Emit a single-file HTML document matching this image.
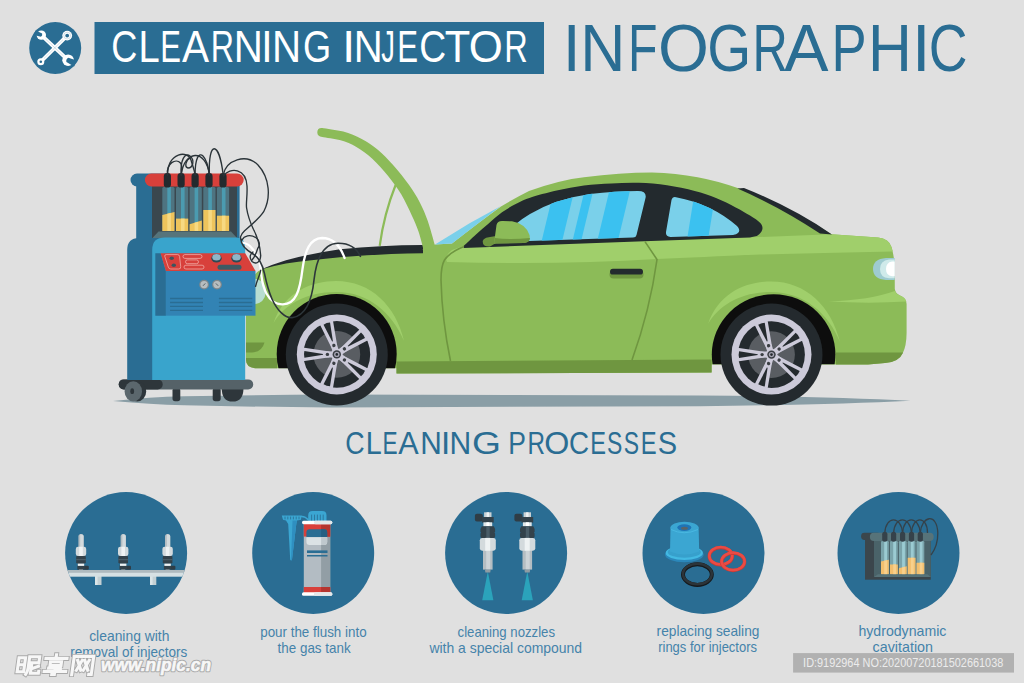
<!DOCTYPE html>
<html>
<head>
<meta charset="utf-8">
<title>Clearning Injector Infographic</title>
<style>
html,body{margin:0;padding:0;background:#e0e0e0;}
body{width:1024px;height:683px;overflow:hidden;font-family:"Liberation Sans",sans-serif;}
svg{display:block;position:absolute;left:0;top:0;}
text{font-family:"Liberation Sans",sans-serif;}
</style>
</head>
<body>
<svg width="1024" height="683" viewBox="0 0 1024 683">
<rect width="1024" height="683" fill="#e0e0e0"/>

<!-- ===== HEADER ===== -->
<g id="header">
  <circle cx="55.2" cy="48" r="26" fill="#2a6d93"/>
  <g id="hicon">
    <line x1="40.8" y1="61.7" x2="67.2" y2="35.6" stroke="#ffffff" stroke-width="3.7"/>
    <circle cx="67.2" cy="35.6" r="4.9" fill="#ffffff"/>
    <circle cx="67.2" cy="35.6" r="3.4" fill="none" stroke="#2a6d93" stroke-width="0.4" opacity="0.5"/>
    <circle cx="67.2" cy="35.6" r="1.9" fill="#2a6d93"/>
    <circle cx="40.8" cy="61.7" r="3.5" fill="#ffffff"/>
    <circle cx="40.8" cy="61.7" r="1.3" fill="#2a6d93"/>
    <line x1="41.3" y1="35.1" x2="68.1" y2="60.2" stroke="#ffffff" stroke-width="3.7"/>
    <circle cx="41.3" cy="35.1" r="4.7" fill="#ffffff"/>
    <g transform="translate(41.3,35.1) rotate(200)"><path d="M-0.2,-1.8 L7,-2.5 L7,2.5 L-0.2,1.8 Q-1.6,0 -0.2,-1.8 Z" fill="#2a6d93"/></g>
    <circle cx="68.1" cy="60.2" r="5.8" fill="#ffffff"/>
    <g transform="translate(68.1,60.2) rotate(24)"><path d="M-0.8,-2.4 L8,-3.2 L8,3.2 L-0.8,2.4 Q-2.6,0 -0.8,-2.4 Z" fill="#2a6d93"/></g>
    <line x1="45.5" y1="39" x2="63.5" y2="55.9" stroke="#2a6d93" stroke-width="0.45" opacity="0.45"/>
    <line x1="44" y1="58.5" x2="63" y2="39.7" stroke="#2a6d93" stroke-width="0.45" opacity="0.45"/>
</g>

  <rect x="94.5" y="22" width="449.5" height="52" fill="#2a6d93"/>
  <text transform="translate(111.16,61.7) scale(0.8294,1)" font-size="43.6" fill="#ffffff">C</text>
<text transform="translate(138.47,61.7) scale(0.8739,1)" font-size="43.6" fill="#ffffff">L</text>
<text transform="translate(160.36,61.7) scale(0.7109,1)" font-size="43.6" fill="#ffffff">E</text>
<text transform="translate(181.92,61.7) scale(0.9305,1)" font-size="43.6" fill="#ffffff">A</text>
<text transform="translate(210.76,61.7) scale(0.7378,1)" font-size="43.6" fill="#ffffff">R</text>
<text transform="translate(233.70,61.7) scale(0.9238,1)" font-size="43.6" fill="#ffffff">N</text>
<text transform="translate(261.34,61.7) scale(0.9345,1)" font-size="43.6" fill="#ffffff">I</text>
<text transform="translate(271.90,61.7) scale(0.9238,1)" font-size="43.6" fill="#ffffff">N</text>
<text transform="translate(303.08,61.7) scale(0.8291,1)" font-size="43.6" fill="#ffffff">G</text>
<text transform="translate(342.25,61.7) scale(1.0575,1)" font-size="43.6" fill="#ffffff">I</text>
<text transform="translate(353.81,61.7) scale(0.9197,1)" font-size="43.6" fill="#ffffff">N</text>
<text transform="translate(381.37,61.7) scale(0.6263,1)" font-size="43.6" fill="#ffffff">J</text>
<text transform="translate(397.14,61.7) scale(0.7152,1)" font-size="43.6" fill="#ffffff">E</text>
<text transform="translate(419.21,61.7) scale(0.8547,1)" font-size="43.6" fill="#ffffff">C</text>
<text transform="translate(444.86,61.7) scale(0.9573,1)" font-size="43.6" fill="#ffffff">T</text>
<text transform="translate(468.83,61.7) scale(1.0046,1)" font-size="43.6" fill="#ffffff">O</text>
<text transform="translate(504.23,61.7) scale(0.7455,1)" font-size="43.6" fill="#ffffff">R</text>

  <text transform="translate(562.66,71.3) scale(0.9545,1)" font-size="67.4" fill="#2a6d93">I</text>
<text transform="translate(580.17,71.3) scale(0.9270,1)" font-size="67.4" fill="#2a6d93">N</text>
<text transform="translate(628.04,71.3) scale(0.7164,1)" font-size="67.4" fill="#2a6d93">F</text>
<text transform="translate(657.90,71.3) scale(0.9716,1)" font-size="67.4" fill="#2a6d93">O</text>
<text transform="translate(707.16,71.3) scale(0.8386,1)" font-size="67.4" fill="#2a6d93">G</text>
<text transform="translate(752.39,71.3) scale(0.7247,1)" font-size="67.4" fill="#2a6d93">R</text>
<text transform="translate(784.27,71.3) scale(0.9845,1)" font-size="67.4" fill="#2a6d93">A</text>
<text transform="translate(831.58,71.3) scale(0.7806,1)" font-size="67.4" fill="#2a6d93">P</text>
<text transform="translate(867.92,71.3) scale(0.9004,1)" font-size="67.4" fill="#2a6d93">H</text>
<text transform="translate(912.06,71.3) scale(0.9863,1)" font-size="67.4" fill="#2a6d93">I</text>
<text transform="translate(928.77,71.3) scale(0.7965,1)" font-size="67.4" fill="#2a6d93">C</text>

</g>

<!-- ===== SCENE ===== -->
<g id="scene">
<!-- ground shadow -->
<path d="M113,401 Q150,397 184,396.2 Q260,394.8 330,394.6 L700,395.5 Q830,396.5 910.5,400.7 Q830,404.8 700,406.2 L330,407.5 Q260,407 184,405.2 Q150,404.5 113,401 Z" fill="#8a9ea6"/>

<!-- ===== CAR ===== -->
<g id="car">
  <!-- windshield sliver -->
  
  <!-- body -->
  <path d="M255,368.3 Q246,367 246,360 L246,300 Q247,278 261,269.3 Q272,265.3 286,262 Q310,256.5 340,253.2 Q380,249.5 422,249 L435,244.5 L452,243.5 Q478,223 501,206.5 Q515,198 529,191 Q560,180 584,177.3 Q620,172.4 652,172.4 Q700,174 738.4,188.3 Q790,207 831.4,234.2 L878,237.4 Q889,238.5 891.5,247 Q894,256 894.7,265 L894.8,289 Q895.5,293.5 900,295.5 Q906.6,298 906.6,304 L906.6,333 Q906.5,346 902.6,353.6 Q899,362 885,363 L868,364.4 L711.6,364.4 L711.6,372.5 L396.5,373.6 L396.5,368.3 Z" fill="#8cbb58"/>
  <path d="M435,244.5 L470,223 L501,206 L478,223.5 L452,243.5 Z" fill="#7ad0ea"/>
  <!-- engine bay black strip -->
  <path d="M261,269.6 Q272,264.5 286,260.3 Q310,253.5 340,249.2 Q380,245.3 423,245 L423,253.2 Q385,253.6 340,257.3 Q310,260 286,263.6 Q272,266.2 261,269.6 Z" fill="#232a2e"/>
  <!-- belt highlight -->
  <path d="M447,262 Q444,256 452,250 L463,246 L700,239 L760,237 L831,234.2 L878,237.4 Q889,238.5 891.5,247 L892.8,251.5 Q820,253 760,254.5 Q700,257 657,259 Q560,265 447,262 Z" fill="#a0cf6b"/>
  <!-- bumper highlight -->
  <path d="M828.7,301.5 Q870,300 894.8,291 Q896,294 900,295.5 Q905.5,297.5 906.4,301.5 Q870,303.8 828.7,301.5 Z" fill="#a0cf6b"/>
  <!-- lower dark strips -->
  <path d="M396.5,361.5 L711.6,359.5 L711.6,372.5 L396.5,373.6 Z" fill="#6f9640"/>
  <path d="M836,352.6 L903.1,352.4 Q899,362 885,363 L868,364.4 L836,364.6 Z" fill="#6f9640"/>
  <path d="M246,358 L277,358 L277,368.3 L255,368.3 Q246,367 246,360 Z" fill="#6f9640"/>
  <!-- front vent -->
  <path d="M246,342.5 L264.5,342.5 Q262,352 252,352.5 L246,352.5 Z" fill="#6f9640"/>
  <!-- headlight -->
  <path d="M254,278.5 Q266.5,281 265.8,292 Q265,303 254,304.5 Z" fill="#bfe3e6" opacity="0.85"/>
  <!-- fender flares -->
  <path d="M273.5,323 C284,292 312,281 336,281 C371,281 396,306 404,341 C392,313 369,292 336,292 C306,292 284,305 273.5,323 Z" fill="#a0cf6b"/>
  <path d="M708,324 C719,292 747,281.5 771,281.5 C806,281.5 831,306 840,342 C828,313 804,292 771,292 C741,292 719,305 708,324 Z" fill="#a0cf6b"/>
  <!-- arches -->
  <clipPath id="cf"><rect x="260" y="280" width="160" height="88.3"/></clipPath>
  <clipPath id="cr"><rect x="700" y="280" width="160" height="84.3"/></clipPath>
  <circle cx="336.7" cy="354" r="60" fill="#0d0d0d" clip-path="url(#cf)"/>
  <ellipse cx="773.6" cy="354.6" rx="61.8" ry="60.4" fill="#0d0d0d" clip-path="url(#cr)"/>
  <!-- window frame black -->
  <path d="M463.7,246 C465.8,244.1 471.9,238.2 476.0,234.5 C480.1,230.8 484.1,227.5 488.4,223.8 C492.7,220.1 497.4,215.6 502.0,212.3 C506.6,209.0 511.1,206.5 515.7,204.1 C520.3,201.7 522.6,200.2 529.4,197.9 C536.2,195.6 547.6,192.6 556.7,190.5 C565.8,188.4 574.9,186.7 584.0,185.5 C593.1,184.3 602.3,183.8 611.4,183.4 C620.5,183.0 629.5,182.5 638.8,182.8 C648.1,183.1 657.7,183.9 667.0,185.3 C676.3,186.7 686.5,188.9 694.7,191.0 C702.9,193.1 709.2,195.3 716.0,198.0 C722.8,200.7 730.0,204.5 735.7,207.4 C741.4,210.3 745.9,212.9 750.0,215.5 C754.1,218.1 758.2,220.7 760.3,223.0 C762.3,225.3 762.8,227.4 762.3,229.5 C761.8,231.6 759.8,234.2 757.6,235.5 C755.5,236.8 750.8,237.2 749.4,237.5 L644,241.3 L463.7,248 Z" fill="#232a2e"/>
  <!-- rear windshield sliver -->
  <path d="M737.5,188.6 L744,188 Q792,207 832,234.4 L820,233.6 Q780,207 737.5,188.6 Z" fill="#232a2e"/>
  <!-- front glass -->
  <clipPath id="g1"><path d="M505,238 Q510,226 530,214 Q555,199 590,194 Q615,191 638,191 Q647,191 645.5,198 L636.5,235 Q636,237.5 633,237.6 L529,241 L505,241 Z"/></clipPath>
  <g clip-path="url(#g1)">
    <rect x="500" y="185" width="150" height="60" fill="#7ad0ea"/>
    <path d="M540.7,245 L555.1,185 L575.6,185 L561.2,245 Z" fill="#3bc1f0"/>
    <path d="M571.5,245 L585.9,185 L594.6,185 L580.2,245 Z" fill="#3bc1f0"/>
    <path d="M596.3,245 L610.7,185 L631.3,185 L616.9,245 Z" fill="#3bc1f0"/>
  </g>
  <!-- rear glass -->
  <clipPath id="g2"><path d="M666,232 L671.5,200 Q672.5,196.5 676,197.2 Q712,204 737,226 Q741,230 738,233 Q736.5,234.8 733,234.9 L670.5,237 Q665.5,237 666,232 Z"/></clipPath>
  <g clip-path="url(#g2)">
    <rect x="660" y="190" width="90" height="50" fill="#7ad0ea"/>
    <path d="M687,240 L695,190 L716,190 L708,240 Z" fill="#3bc1f0"/>
  </g>
  <!-- mirror -->
  <path d="M483,243.5 Q481,238 490,237 L496,236 L496,243 L490,246.5 Q484,247 483,243.5 Z" fill="#6f9640"/>
  <path d="M494,243.5 L496.5,225 Q497.5,220.5 503,221 L512,221.3 Q526,224 529.5,235 Q531,242 524,243 Z" fill="#8cbb58"/>
  <path d="M494,243.5 L494.8,238 Q510,240 530,238 Q530,242.5 524,243 Z" fill="#6f9640"/>
  <!-- door lines -->
  <path d="M464,246.5 Q450,252 444.5,260 Q441,266 441,280 Q442,320 450.5,361" fill="none" stroke="#6f9640" stroke-width="1.6"/>
  <path d="M645,241.6 L657,259.5 Q650,310 632,360" fill="none" stroke="#6f9640" stroke-width="1.6"/>
  <!-- door handle -->
  <rect x="609.5" y="270.5" width="34" height="8" rx="4" fill="#6f9640"/>
  <rect x="610" y="268.8" width="33" height="5.8" rx="2.9" fill="#232a2e"/>
  <!-- tail light -->
  <path d="M894.7,258 L886,258 Q873,259 873,269 Q873,279 886,280 L894.7,280 Z" fill="#9ecbd0"/>
  <path d="M894.7,259.5 L889,259.5 Q880,260.5 880,269 Q880,277.5 889,278.3 L894.7,278.3 Z" fill="#cfeaea"/>
  <path d="M894.7,261.5 L892,261.5 Q886,262.5 886,269 Q886,275.5 892,276.3 L894.7,276.3 Z" fill="#ffffff"/>
  <!-- hood -->
  <path d="M322.2,127.9 C325.7,128.5 336.7,129.8 343.3,131.6 C349.9,133.4 356.0,136.0 361.7,139.0 C367.4,142.0 372.2,145.1 377.5,149.5 C382.8,153.9 388.0,159.4 393.3,165.3 C398.6,171.2 404.7,178.9 409.1,185.1 C413.5,191.2 416.6,196.3 419.7,202.2 C422.8,208.1 425.2,213.8 427.6,220.6 C430.0,227.4 432.9,238.3 434.2,243.0 C435.5,247.7 435.3,248.0 435.5,249.0 L422.5,250 C422.6,249.5 423.5,250.1 422.8,247.0 C422.1,243.9 420.2,236.5 418.4,231.2 C416.6,225.9 414.7,221.6 411.8,215.4 C408.9,209.2 405.1,200.9 401.2,194.3 C397.2,187.7 392.9,181.8 388.1,175.9 C383.3,170.0 377.6,163.5 372.3,158.7 C367.0,153.9 361.7,150.0 356.4,146.9 C351.1,143.8 346.3,142.0 340.6,140.3 C334.9,138.6 325.3,137.5 322.2,136.9 Q317.3,136.6 317.3,132.3 Q317.3,127.6 322.2,127.9 Z" fill="#8cbb58"/>
  <!-- hood prop -->
  <path d="M395.6,185 Q384,214 379.7,245.8" fill="none" stroke="#8cbb58" stroke-width="2.2"/>
</g>
<!-- wheels -->
<g transform="translate(336.8,354.4)">
<circle r="51" fill="#242a2e"/>
<circle r="40" fill="#cccad9"/>
<circle r="33.4" fill="#242a2e"/>
<circle r="23.4" fill="#595d62"/>
<g transform="rotate(180)">
<path d="M2,-3 L9,-3.2 L34,-6.9 L34,6.9 L9,3.2 L2,3 Z" fill="#cccad9"/>
<path d="M13.8,-0.4 L32.4,-3.4 Q33.3,0 32.4,3.4 L13.8,0.4 Z" fill="#242a2e"/>
<circle cx="9.4" cy="0" r="3.1" fill="#cccad9"/>
<circle cx="9.4" cy="0" r="1.7" fill="#3a3e43"/>
</g>
<g transform="rotate(252)">
<path d="M2,-3 L9,-3.2 L34,-6.9 L34,6.9 L9,3.2 L2,3 Z" fill="#cccad9"/>
<path d="M13.8,-0.4 L32.4,-3.4 Q33.3,0 32.4,3.4 L13.8,0.4 Z" fill="#242a2e"/>
<circle cx="9.4" cy="0" r="3.1" fill="#cccad9"/>
<circle cx="9.4" cy="0" r="1.7" fill="#3a3e43"/>
</g>
<g transform="rotate(324)">
<path d="M2,-3 L9,-3.2 L34,-6.9 L34,6.9 L9,3.2 L2,3 Z" fill="#cccad9"/>
<path d="M13.8,-0.4 L32.4,-3.4 Q33.3,0 32.4,3.4 L13.8,0.4 Z" fill="#242a2e"/>
<circle cx="9.4" cy="0" r="3.1" fill="#cccad9"/>
<circle cx="9.4" cy="0" r="1.7" fill="#3a3e43"/>
</g>
<g transform="rotate(396)">
<path d="M2,-3 L9,-3.2 L34,-6.9 L34,6.9 L9,3.2 L2,3 Z" fill="#cccad9"/>
<path d="M13.8,-0.4 L32.4,-3.4 Q33.3,0 32.4,3.4 L13.8,0.4 Z" fill="#242a2e"/>
<circle cx="9.4" cy="0" r="3.1" fill="#cccad9"/>
<circle cx="9.4" cy="0" r="1.7" fill="#3a3e43"/>
</g>
<g transform="rotate(468)">
<path d="M2,-3 L9,-3.2 L34,-6.9 L34,6.9 L9,3.2 L2,3 Z" fill="#cccad9"/>
<path d="M13.8,-0.4 L32.4,-3.4 Q33.3,0 32.4,3.4 L13.8,0.4 Z" fill="#242a2e"/>
<circle cx="9.4" cy="0" r="3.1" fill="#cccad9"/>
<circle cx="9.4" cy="0" r="1.7" fill="#3a3e43"/>
</g>
<circle r="5.8" fill="#cccad9"/>
<circle r="4.2" fill="#3a3e43"/>
<circle r="2.7" fill="#a5a3b2"/>
<circle r="1.3" fill="#242a2e"/>
</g>
<g transform="translate(771.5,354.6)">
<circle r="51" fill="#242a2e"/>
<circle r="40" fill="#cccad9"/>
<circle r="33.4" fill="#242a2e"/>
<circle r="23.4" fill="#595d62"/>
<g transform="rotate(180)">
<path d="M2,-3 L9,-3.2 L34,-6.9 L34,6.9 L9,3.2 L2,3 Z" fill="#cccad9"/>
<path d="M13.8,-0.4 L32.4,-3.4 Q33.3,0 32.4,3.4 L13.8,0.4 Z" fill="#242a2e"/>
<circle cx="9.4" cy="0" r="3.1" fill="#cccad9"/>
<circle cx="9.4" cy="0" r="1.7" fill="#3a3e43"/>
</g>
<g transform="rotate(252)">
<path d="M2,-3 L9,-3.2 L34,-6.9 L34,6.9 L9,3.2 L2,3 Z" fill="#cccad9"/>
<path d="M13.8,-0.4 L32.4,-3.4 Q33.3,0 32.4,3.4 L13.8,0.4 Z" fill="#242a2e"/>
<circle cx="9.4" cy="0" r="3.1" fill="#cccad9"/>
<circle cx="9.4" cy="0" r="1.7" fill="#3a3e43"/>
</g>
<g transform="rotate(324)">
<path d="M2,-3 L9,-3.2 L34,-6.9 L34,6.9 L9,3.2 L2,3 Z" fill="#cccad9"/>
<path d="M13.8,-0.4 L32.4,-3.4 Q33.3,0 32.4,3.4 L13.8,0.4 Z" fill="#242a2e"/>
<circle cx="9.4" cy="0" r="3.1" fill="#cccad9"/>
<circle cx="9.4" cy="0" r="1.7" fill="#3a3e43"/>
</g>
<g transform="rotate(396)">
<path d="M2,-3 L9,-3.2 L34,-6.9 L34,6.9 L9,3.2 L2,3 Z" fill="#cccad9"/>
<path d="M13.8,-0.4 L32.4,-3.4 Q33.3,0 32.4,3.4 L13.8,0.4 Z" fill="#242a2e"/>
<circle cx="9.4" cy="0" r="3.1" fill="#cccad9"/>
<circle cx="9.4" cy="0" r="1.7" fill="#3a3e43"/>
</g>
<g transform="rotate(468)">
<path d="M2,-3 L9,-3.2 L34,-6.9 L34,6.9 L9,3.2 L2,3 Z" fill="#cccad9"/>
<path d="M13.8,-0.4 L32.4,-3.4 Q33.3,0 32.4,3.4 L13.8,0.4 Z" fill="#242a2e"/>
<circle cx="9.4" cy="0" r="3.1" fill="#cccad9"/>
<circle cx="9.4" cy="0" r="1.7" fill="#3a3e43"/>
</g>
<circle r="5.8" fill="#cccad9"/>
<circle r="4.2" fill="#3a3e43"/>
<circle r="2.7" fill="#a5a3b2"/>
<circle r="1.3" fill="#242a2e"/>
</g>
<!-- ===== MACHINE ===== -->
<g id="machine">
  <!-- wheels/legs -->
  <rect x="172.5" y="388" width="7.8" height="13.2" rx="2.6" fill="#2e363b"/>
  <rect x="212.7" y="388" width="8" height="13.2" rx="2.6" fill="#2e363b"/>
  <path d="M221.7,388 L243.5,388 Q243.5,401.6 232.6,401.6 Q221.7,401.6 221.7,388 Z" fill="#2e363b"/>
  <!-- base bar -->
  <rect x="118.7" y="379.4" width="134.5" height="10" rx="5" fill="#556268"/>
  <rect x="118.7" y="379.4" width="44" height="10" rx="5" fill="#2e363b"/>
  <ellipse cx="137.2" cy="391.4" rx="9" ry="10.2" fill="#2e363b"/>
  <ellipse cx="133.3" cy="391.4" rx="8.7" ry="10.2" fill="#5b676d"/>
  <ellipse cx="132.2" cy="391.2" rx="1.9" ry="2.9" fill="#2e363b"/>
  <!-- back top cap -->
  <rect x="130.5" y="173.5" width="40" height="13" rx="6.5" fill="#2a6d93"/>
  <rect x="136.2" y="180" width="16" height="70" fill="#2a6d93"/>
  <rect x="236" y="184" width="3.6" height="60" fill="#2a6d93"/>
  <!-- window -->
  <rect x="152" y="184" width="85" height="56" fill="#3a474e"/>
  <!-- tubes -->
  <g id="tubes">
    <rect x="162.3" y="187" width="12.2" height="44" rx="1.5" fill="#4e7481"/>
    <rect x="176.0" y="187" width="12.2" height="44" rx="1.5" fill="#4e7481"/>
    <rect x="189.6" y="187" width="12.2" height="44" rx="1.5" fill="#4e7481"/>
    <rect x="203.3" y="187" width="12.2" height="44" rx="1.5" fill="#4e7481"/>
    <rect x="216.9" y="187" width="12.2" height="44" rx="1.5" fill="#4e7481"/>
    <rect x="167.3" y="187" width="3.6" height="44" fill="#4b9bb0"/>
    <rect x="181.0" y="187" width="3.6" height="44" fill="#4b9bb0"/>
    <rect x="194.6" y="187" width="3.6" height="44" fill="#4b9bb0"/>
    <rect x="208.3" y="187" width="3.6" height="44" fill="#4b9bb0"/>
    <rect x="221.9" y="187" width="3.6" height="44" fill="#4b9bb0"/>
    <path d="M162.3,215 L174.5,212 L174.5,231 L162.3,231 Z" fill="#eec45c"/>
    <path d="M176,218.6 L188.2,218.6 L188.2,231 L176,231 Z" fill="#eec45c"/>
    <path d="M189.6,224.3 L201.8,220.6 L201.8,231 L189.6,231 Z" fill="#eec45c"/>
    <path d="M203.3,210 L215.5,210 L215.5,231 L203.3,231 Z" fill="#eec45c"/>
    <path d="M216.9,215.7 L229.1,215.7 L229.1,231 L216.9,231 Z" fill="#eec45c"/>
    <path d="M167.3,213.8 L170.9,212.9 L170.9,231 L167.3,231 Z" fill="#f6d982"/>
    <path d="M181,218.6 L184.6,218.6 L184.6,231 L181,231 Z" fill="#f6d982"/>
    <path d="M194.6,222.8 L198.2,221.7 L198.2,231 L194.6,231 Z" fill="#f6d982"/>
    <path d="M208.3,210 L211.9,210 L211.9,231 L208.3,231 Z" fill="#f6d982"/>
    <path d="M221.9,215.7 L225.5,215.7 L225.5,231 L221.9,231 Z" fill="#f6d982"/>
  </g>
  <!-- tray -->
  <path d="M152,238.5 L158.5,231.5 L231,231.5 L237.5,238.5 Z" fill="#56747b"/>
  <!-- red top bar -->
  <rect x="144.9" y="173.5" width="98.8" height="13" rx="6.5" fill="#d8403b"/>
  <!-- connectors -->
  <g fill="#232a2e">
    <rect x="163.8" y="173" width="7.2" height="14.6" rx="3.4"/>
    <rect x="177.5" y="173" width="7.2" height="14.6" rx="3.4"/>
    <rect x="191.5" y="173" width="7.2" height="14.6" rx="3.4"/>
    <rect x="205.4" y="173" width="7.2" height="14.6" rx="3.4"/>
    <rect x="219.4" y="173" width="7.2" height="14.6" rx="3.4"/>
  </g>
  <!-- dark body left -->
  <path d="M127.2,380 L127.2,250 Q127.2,238 139,238 L160,238 L160,380 Z" fill="#2a6d93"/>
  <!-- light body -->
  <path d="M152.2,380 L152.2,250 Q152.2,237.6 165,237.6 L236,237.6 Q245.2,237.6 245.2,248 L245.2,380 Z" fill="#39a4cc"/>
  <!-- box: left side -->
  <path d="M155.3,253.2 L160.6,253.2 L165.9,270.9 L165.9,315.7 L155.3,315.7 Z" fill="#2a6d93"/>
  <!-- box: front -->
  <rect x="165.9" y="270.9" width="89.6" height="44.8" fill="#3283b4"/>
  <!-- red panel -->
  <path d="M160.6,253.2 L245.2,253.2 L255.5,270.9 L165.9,270.9 Z" fill="#d8403b"/>
  <!-- panel details -->
  <g fill="none" stroke="#f3b9b3" stroke-width="0.7">
    <path d="M166.2,254.6 L177.5,254.6 Q179.4,254.6 179.6,256.5 L180.7,266.7 Q181,269 178.6,269 L170.8,269 Q168.8,269 168.3,267 L164.8,256.4 Q164.4,254.6 166.2,254.6 Z"/>
    <rect x="183" y="254.6" width="19" height="3.8" rx="1.9"/>
    <rect x="185.5" y="259.9" width="13" height="3.8" rx="1.9"/>
    <rect x="184" y="265.2" width="20" height="3.8" rx="1.9"/>
  </g>
  <ellipse cx="171.7" cy="258.2" rx="2.2" ry="1.7" fill="#3b5560"/>
  <ellipse cx="173.8" cy="265.3" rx="2.2" ry="1.7" fill="#3b5560"/>
  <ellipse cx="216.5" cy="258.3" rx="5.2" ry="4.3" fill="#2f4954"/>
  <ellipse cx="216.5" cy="257.3" rx="4.2" ry="3.3" fill="#8fb5c7"/>
  <ellipse cx="236.5" cy="258.3" rx="5.2" ry="4.3" fill="#2f4954"/>
  <ellipse cx="236.5" cy="257.3" rx="4.2" ry="3.3" fill="#8fb5c7"/>
  <rect x="217.5" y="264.8" width="24" height="5" rx="2.5" fill="#3f5a64"/>
  <!-- gauges -->
  <circle cx="204.1" cy="284.6" r="4.9" fill="#7f878b"/>
  <circle cx="204.1" cy="284.6" r="3.7" fill="#b6bcbf"/>
  <path d="M203,285.8 L205.3,283.4" stroke="#4a555b" stroke-width="0.9"/>
  <circle cx="217" cy="284.6" r="4.9" fill="#7f878b"/>
  <circle cx="217" cy="284.6" r="3.7" fill="#b6bcbf"/>
  <path d="M218.2,285.8 L215.9,283.4" stroke="#4a555b" stroke-width="0.9"/>
  <!-- vents -->
  <g stroke="#2a6d93" stroke-width="1.3">
    <path d="M170.1,298.5 H203 M170.1,302.5 H203 M170.1,306.4 H203 M170.1,310.4 H203"/>
    <path d="M218.9,298.5 H252.3 M218.9,302.5 H252.3 M218.9,306.4 H252.3 M218.9,310.4 H252.3"/>
  </g>
</g>
<!-- ===== WIRES ===== -->
<g id="wires" fill="none" stroke-linecap="round">
  <!-- white hose -->
  <path d="M242.4,242.5 C247,243.5 250,245.5 252,248.3 C255.5,252.5 258,257 259.3,261.5 C260.5,266 261,271 261.5,276.1 C262.5,284 264,289 266.6,293.7 C270,300 275,304 282,304.3 C296,305 300,290 302.5,269 C305,250 310,238.5 322,238 C335,238 341,248 344.6,258" stroke="#ffffff" stroke-width="2.3"/>
  <!-- dark hose -->
  <path d="M241,239.5 C241,246 247,250.5 253.4,254.2 C258,257 262,263 264.4,273.2 C266,281 268,290 272,299 C277,310 285,319 293,317.5 C306,315 312,300 314,280 C316,262 322,243.5 338,243.2 C350,243 357,249 360.4,256.3" stroke="#2d363b" stroke-width="1.6"/>
  <g stroke="#2a3338" stroke-width="1.35">
    <!-- loops above connectors -->
    <path d="M167.5,175 C166,163 176,158 180.5,163 C183,166 181.5,171 181.2,175"/>
    <path d="M167.5,175 C168,152 188,150 191,160 C193,167 194.5,170 195.1,175"/>
    <path d="M181.2,175 C180,160 185,152 190,156 C195,160 193,168 188,168 C184,167 186,160 190,158"/>
    <path d="M195.1,175 C195,158 199,152 203,156 C207,160 208.5,168 209.4,175"/>
    <path d="M181.2,175 C184,150 206,148 209.4,175"/>
    <path d="M209.4,175 C208,140 219,140 223.2,175"/>
    <!-- right loops -->
    <path d="M223.2,175 C226,160 246,153 258,165 C270,178 271,198 263.7,211.7 C259,219 250,226 244.6,230.7 C240,235 239.5,239 242,240 C244,236 250,233.5 256.4,238 C260,241 260,246 257.8,248.3 C256,254 254,258 252,260"/>
    <path d="M223.5,176 C230,167 246,168 247,186 C247.5,197 245.8,203 246.6,208 C247.6,214.6 250,222 253.4,229.3 C257,236 260,243.9 260.7,255.6 C260.3,262 256.4,265 252,261.5 C249,258 250,254 253,252"/>
    <path d="M255.6,286.4 C257,280 260,275 260.7,270.3"/>
  </g>
</g>

</g>

<!-- ===== PROCESSES ===== -->
<text transform="translate(345.34,454.3) scale(0.8522,1)" font-size="31.5" fill="#2a6d93">C</text>
<text transform="translate(365.74,454.3) scale(0.9144,1)" font-size="31.5" fill="#2a6d93">L</text>
<text transform="translate(382.44,454.3) scale(0.7204,1)" font-size="31.5" fill="#2a6d93">E</text>
<text transform="translate(398.34,454.3) scale(0.9719,1)" font-size="31.5" fill="#2a6d93">A</text>
<text transform="translate(420.15,454.3) scale(0.9491,1)" font-size="31.5" fill="#2a6d93">N</text>
<text transform="translate(441.03,454.3) scale(1.0552,1)" font-size="31.5" fill="#2a6d93">I</text>
<text transform="translate(449.53,454.3) scale(0.9548,1)" font-size="31.5" fill="#2a6d93">N</text>
<text transform="translate(472.03,454.3) scale(1.1817,1)" font-size="31.5" fill="#2a6d93">G</text>
<text transform="translate(508.33,454.3) scale(0.8410,1)" font-size="31.5" fill="#2a6d93">P</text>
<text transform="translate(527.51,454.3) scale(0.7699,1)" font-size="31.5" fill="#2a6d93">R</text>
<text transform="translate(544.17,454.3) scale(1.0231,1)" font-size="31.5" fill="#2a6d93">O</text>
<text transform="translate(568.89,454.3) scale(0.8823,1)" font-size="31.5" fill="#2a6d93">C</text>
<text transform="translate(590.36,454.3) scale(0.7497,1)" font-size="31.5" fill="#2a6d93">E</text>
<text transform="translate(607.06,454.3) scale(0.7279,1)" font-size="31.5" fill="#2a6d93">S</text>
<text transform="translate(623.76,454.3) scale(0.7279,1)" font-size="31.5" fill="#2a6d93">S</text>
<text transform="translate(640.75,454.3) scale(0.7556,1)" font-size="31.5" fill="#2a6d93">E</text>
<text transform="translate(657.78,454.3) scale(0.9209,1)" font-size="31.5" fill="#2a6d93">S</text>


<g id="circles">
  <circle cx="126.1" cy="553" r="61" fill="#2a6d93"/>
  <circle cx="313.2" cy="553" r="61" fill="#2a6d93"/>
  <circle cx="506.1" cy="553" r="61" fill="#2a6d93"/>
  <circle cx="703.5" cy="553" r="61" fill="#2a6d93"/>
  <circle cx="898.5" cy="553" r="61" fill="#2a6d93"/>
</g>

<g id="icon1">
<clipPath id="c1"><circle cx="126.1" cy="553" r="61"/></clipPath>
<g transform="translate(81,0)">
  <rect x="3" y="565.8" width="4.8" height="3.9" rx="1" fill="#2f3d46"/>
  <rect x="-2" y="568" width="4" height="2.4" fill="#c9d1d4"/>
  <rect x="-3.7" y="565.4" width="7.4" height="4.2" fill="#33424b"/>
  <rect x="-3.2" y="563.2" width="6.4" height="2.7" fill="#eef2f3"/>
  <rect x="-4.8" y="555.6" width="9.6" height="8" rx="1.4" fill="#33424b"/>
  <rect x="-4.8" y="559.2" width="9.6" height="1" fill="#4f626c"/>
  <path d="M-2.6,548 L-2.6,536.6 Q-2.6,534 0,534 Q2.6,534 2.6,536.6 L2.6,548 Z" fill="#b4bdc2"/>
  <path d="M-0.8,548 L-0.8,534.2 Q2.6,534 2.6,536.6 L2.6,548 Z" fill="#d3dadd"/>
  <rect x="-5.2" y="546.8" width="10.4" height="9.2" rx="2.2" fill="#d3dadd"/>
  <rect x="-1.8" y="546.8" width="3.6" height="9.2" fill="#eef2f3"/>
</g>
<g transform="translate(123.2,0)">
  <rect x="3" y="565.8" width="4.8" height="3.9" rx="1" fill="#2f3d46"/>
  <rect x="-2" y="568" width="4" height="2.4" fill="#c9d1d4"/>
  <rect x="-3.7" y="565.4" width="7.4" height="4.2" fill="#33424b"/>
  <rect x="-3.2" y="563.2" width="6.4" height="2.7" fill="#eef2f3"/>
  <rect x="-4.8" y="555.6" width="9.6" height="8" rx="1.4" fill="#33424b"/>
  <rect x="-4.8" y="559.2" width="9.6" height="1" fill="#4f626c"/>
  <path d="M-2.6,548 L-2.6,536.6 Q-2.6,534 0,534 Q2.6,534 2.6,536.6 L2.6,548 Z" fill="#b4bdc2"/>
  <path d="M-0.8,548 L-0.8,534.2 Q2.6,534 2.6,536.6 L2.6,548 Z" fill="#d3dadd"/>
  <rect x="-5.2" y="546.8" width="10.4" height="9.2" rx="2.2" fill="#d3dadd"/>
  <rect x="-1.8" y="546.8" width="3.6" height="9.2" fill="#eef2f3"/>
</g>
<g transform="translate(167.6,0)">
  <rect x="3" y="565.8" width="4.8" height="3.9" rx="1" fill="#2f3d46"/>
  <rect x="-2" y="568" width="4" height="2.4" fill="#c9d1d4"/>
  <rect x="-3.7" y="565.4" width="7.4" height="4.2" fill="#33424b"/>
  <rect x="-3.2" y="563.2" width="6.4" height="2.7" fill="#eef2f3"/>
  <rect x="-4.8" y="555.6" width="9.6" height="8" rx="1.4" fill="#33424b"/>
  <rect x="-4.8" y="559.2" width="9.6" height="1" fill="#4f626c"/>
  <path d="M-2.6,548 L-2.6,536.6 Q-2.6,534 0,534 Q2.6,534 2.6,536.6 L2.6,548 Z" fill="#b4bdc2"/>
  <path d="M-0.8,548 L-0.8,534.2 Q2.6,534 2.6,536.6 L2.6,548 Z" fill="#d3dadd"/>
  <rect x="-5.2" y="546.8" width="10.4" height="9.2" rx="2.2" fill="#d3dadd"/>
  <rect x="-1.8" y="546.8" width="3.6" height="9.2" fill="#eef2f3"/>
</g>
<g clip-path="url(#c1)">
<rect x="95" y="573" width="6.5" height="12" fill="#c3d0d4"/><rect x="95" y="573" width="2.6" height="12" fill="#dbe5e7"/>
<rect x="150" y="573" width="6.3" height="12" fill="#c3d0d4"/><rect x="150" y="573" width="2.6" height="12" fill="#dbe5e7"/>
<rect x="60" y="570" width="135" height="3" fill="#aebabf"/>
<rect x="60" y="572.8" width="135" height="3.9" fill="#d5e0e3"/>
</g></g>
<g id="icon2">
  <path d="M281.8,515.5 L301.6,515.5 L301,519.8 L297,520.5 L296.3,524 L292,559.5 Q291,561.5 290.2,559.5 L288.2,524 L286,520.5 L283,519.8 Z" fill="#3ba6d2"/>
  <path d="M292.5,520.5 L297,520.5 L296.3,524 L292,559.5 Q291.2,561 291,560 Z" fill="#2f8fc0"/>
  <g stroke="#2a6d93" stroke-width="0.8"><path d="M285,516.6 V519.4 M287.8,516.6 V519.4 M290.6,516.6 V519.4 M293.4,516.6 V519.4 M296.2,516.6 V519.4 M299,516.6 V519.4"/></g>
  <path d="M301,516.5 Q305,516 308.5,520" fill="none" stroke="#3ba6d2" stroke-width="1.5"/>
  <path d="M308.2,522 L308.2,515.5 Q308.2,511.1 312.5,511.1 L322.2,511.1 Q326.5,511.1 326.5,515.5 L326.5,522 Z" fill="#3ba6d2"/>
  <g stroke="#2a6d93" stroke-width="0.8"><path d="M311.6,514.6 V521 M314.5,514.6 V521 M317.4,514.6 V521 M320.3,514.6 V521 M323.2,514.6 V521"/></g>
  <rect x="303.8" y="524" width="26.4" height="69" fill="#b3bcc3"/>
  <rect x="321.1" y="524" width="9.1" height="69" fill="#929ea5"/>
  <rect x="303.8" y="523" width="26.4" height="13.6" fill="#d8403b"/>
  <rect x="321.1" y="523" width="9.1" height="13.6" fill="#b5352f"/>
  <rect x="303.8" y="587" width="26.4" height="6" fill="#d8403b"/>
  <rect x="321.1" y="587" width="9.1" height="6" fill="#b5352f"/>
  <rect x="302" y="520.8" width="30.3" height="3.4" rx="1.6" fill="#ffffff"/>
  <rect x="314" y="520.8" width="18.3" height="3.4" rx="1.6" fill="#e3e8ea"/>
  <rect x="302" y="592.2" width="30.3" height="3.6" rx="1.6" fill="#ffffff"/>
  <rect x="314" y="592.2" width="18.3" height="3.6" rx="1.6" fill="#e3e8ea"/>
  <clipPath id="cw"><rect x="306.4" y="529.2" width="20.8" height="15.8" rx="3.2"/></clipPath>
  <g clip-path="url(#cw)">
    <rect x="306" y="529" width="22" height="8.2" fill="#2a6d93"/>
    <rect x="321.1" y="529" width="7" height="8.2" fill="#245f82"/>
    <rect x="306" y="537.2" width="22" height="8" fill="#dbe2e5"/>
    <rect x="321.1" y="537.2" width="7" height="8" fill="#bfc8cd"/>
  </g>
  <rect x="307" y="550.4" width="20.5" height="2.6" fill="#2a6d93"/>
  <rect x="307" y="555" width="20.5" height="1.5" fill="#2a6d93"/>
</g>
<g id="icon3">
<g transform="translate(487.8,0)">
  <path d="M0,571.5 L-5.6,600.2 L5.6,600.2 Z" fill="#2ba3bb"/>
  <rect x="-12.9" y="513.8" width="8" height="7.6" rx="2" fill="#2f3d46"/>
  <rect x="-3.7" y="512.3" width="7.4" height="5.5" fill="#c9d1d4"/>
  <rect x="-1.2" y="512.3" width="2.4" height="5.5" fill="#eef2f3"/>
  <rect x="-5.9" y="517" width="11.8" height="5.6" fill="#33424b"/>
  <rect x="-4.4" y="522.3" width="8.8" height="4.2" fill="#dfe5e7"/>
  <rect x="-1.4" y="522.3" width="3" height="4.2" fill="#ffffff"/>
  <path d="M-6,526.2 L6,526.2 L7.3,529 L7.3,532 L6.6,532.6 L7.3,533.4 L7.3,536.8 L6.3,538.2 L-6.3,538.2 L-7.3,536.8 L-7.3,533.4 L-6.6,532.6 L-7.3,532 L-7.3,529 Z" fill="#33424b"/>
  <rect x="-1.5" y="526.2" width="3.4" height="12" fill="#4a5d68"/>
  <rect x="-4.8" y="548" width="9.6" height="21.6" fill="#b4bdc2"/>
  <rect x="-1.6" y="548" width="4" height="21.6" fill="#ccd3d7"/>
  <path d="M-2.9,569.4 L2.9,569.4 L2.4,572.4 L-2.4,572.4 Z" fill="#8f9ca3"/>
  <rect x="-8" y="537.9" width="16" height="12.8" rx="2.4" fill="#d3dadd"/>
  <rect x="-2.6" y="537.9" width="5" height="12.8" fill="#eef2f3"/>
</g>
<g transform="translate(527.3,0)">
  <path d="M0,571.5 L-5.6,600.2 L5.6,600.2 Z" fill="#2ba3bb"/>
  <rect x="-12.9" y="513.8" width="8" height="7.6" rx="2" fill="#2f3d46"/>
  <rect x="-3.7" y="512.3" width="7.4" height="5.5" fill="#c9d1d4"/>
  <rect x="-1.2" y="512.3" width="2.4" height="5.5" fill="#eef2f3"/>
  <rect x="-5.9" y="517" width="11.8" height="5.6" fill="#33424b"/>
  <rect x="-4.4" y="522.3" width="8.8" height="4.2" fill="#dfe5e7"/>
  <rect x="-1.4" y="522.3" width="3" height="4.2" fill="#ffffff"/>
  <path d="M-6,526.2 L6,526.2 L7.3,529 L7.3,532 L6.6,532.6 L7.3,533.4 L7.3,536.8 L6.3,538.2 L-6.3,538.2 L-7.3,536.8 L-7.3,533.4 L-6.6,532.6 L-7.3,532 L-7.3,529 Z" fill="#33424b"/>
  <rect x="-1.5" y="526.2" width="3.4" height="12" fill="#4a5d68"/>
  <rect x="-4.8" y="548" width="9.6" height="21.6" fill="#b4bdc2"/>
  <rect x="-1.6" y="548" width="4" height="21.6" fill="#ccd3d7"/>
  <path d="M-2.9,569.4 L2.9,569.4 L2.4,572.4 L-2.4,572.4 Z" fill="#8f9ca3"/>
  <rect x="-8" y="537.9" width="16" height="12.8" rx="2.4" fill="#d3dadd"/>
  <rect x="-2.6" y="537.9" width="5" height="12.8" fill="#eef2f3"/>
</g>
</g>
<g id="icon4">
  <ellipse cx="684.3" cy="554.6" rx="19.3" ry="7.6" fill="#2b88bb"/>
  <ellipse cx="684.3" cy="553" rx="18.6" ry="7" fill="#43b9e2"/>
  <ellipse cx="684.3" cy="552" rx="16.6" ry="5.8" fill="#37a0cc"/>
  <path d="M670.5,527.6 L670,551.5 Q684,557.5 699.2,551.5 L698.6,527.6 Z" fill="#3ba6d2"/>
  <ellipse cx="684.5" cy="527.6" rx="14.05" ry="5.9" fill="#3ba6d2"/>
  <path d="M671,529.5 Q684,536 698,529.5" fill="none" stroke="#4dbde4" stroke-width="0.8"/>
  <ellipse cx="684.3" cy="527.6" rx="7" ry="3.3" fill="#1f74b6"/>
  <ellipse cx="684.5" cy="528.2" rx="3.4" ry="1.5" fill="#5a6468"/>
  <ellipse cx="720.8" cy="556.2" rx="11.5" ry="8.7" fill="none" stroke="#c93a35" stroke-width="3.4"/>
  <ellipse cx="720.8" cy="555.7" rx="11.5" ry="8.7" fill="none" stroke="#ea4b44" stroke-width="2.6"/>
  <ellipse cx="733.1" cy="561.8" rx="11.5" ry="8.7" fill="none" stroke="#c93a35" stroke-width="3.4"/>
  <ellipse cx="733.1" cy="561.3" rx="11.5" ry="8.7" fill="none" stroke="#ea4b44" stroke-width="2.6"/>
  <ellipse cx="697.4" cy="574.6" rx="14.4" ry="10.3" fill="none" stroke="#15191c" stroke-width="4"/>
  <ellipse cx="697.4" cy="574" rx="14.4" ry="10.3" fill="none" stroke="#2c3439" stroke-width="2.6"/>
</g>
<g id="icon5">
  <rect x="861.1" y="532.8" width="20" height="7.2" rx="3.4" fill="#3b464c"/>
  <rect x="865" y="536" width="65.8" height="43.7" fill="#3b464c"/>
  <rect x="874" y="540" width="56.8" height="37" fill="#4a6369"/>
  <rect x="881" y="541" width="7.8" height="33.6" rx="1.2" fill="#7aa4ab"/><rect x="884.2" y="541" width="2.8" height="33.6" fill="#9bcbd2"/><path d="M881,561.5 L888.8,559.8 L888.8,573.4 Q888.8,574.6 887.6,574.6 L882.2,574.6 Q881,574.6 881,573.4 Z" fill="#f3bf6e"/><path d="M884.2,560.8025641025641 L887,560.1923076923076 L887,574.6 L884.2,574.6 Z" fill="#f8d08c"/><rect x="890" y="541" width="7.8" height="33.6" rx="1.2" fill="#7aa4ab"/><rect x="893.2" y="541" width="2.8" height="33.6" fill="#9bcbd2"/><path d="M890,564.4 L897.8,564.4 L897.8,573.4 Q897.8,574.6 896.6,574.6 L891.2,574.6 Q890,574.6 890,573.4 Z" fill="#f3bf6e"/><path d="M893.2,564.4 L896,564.4 L896,574.6 L893.2,574.6 Z" fill="#f8d08c"/><rect x="898.9" y="541" width="7.8" height="33.6" rx="1.2" fill="#7aa4ab"/><rect x="902.1" y="541" width="2.8" height="33.6" fill="#9bcbd2"/><path d="M898.9,568.2 L906.6999999999999,566.2 L906.6999999999999,573.4 Q906.6999999999999,574.6 905.5,574.6 L900.1,574.6 Q898.9,574.6 898.9,573.4 Z" fill="#f3bf6e"/><path d="M902.1,567.3794871794872 L904.9,566.6615384615385 L904.9,574.6 L902.1,574.6 Z" fill="#f8d08c"/><rect x="907.7" y="541" width="7.8" height="33.6" rx="1.2" fill="#7aa4ab"/><rect x="910.9000000000001" y="541" width="2.8" height="33.6" fill="#9bcbd2"/><path d="M907.7,557.8 L915.5,557.8 L915.5,573.4 Q915.5,574.6 914.3000000000001,574.6 L908.9000000000001,574.6 Q907.7,574.6 907.7,573.4 Z" fill="#f3bf6e"/><path d="M910.9000000000001,557.8 L913.7,557.8 L913.7,574.6 L910.9000000000001,574.6 Z" fill="#f8d08c"/><rect x="916.5" y="541" width="7.8" height="33.6" rx="1.2" fill="#7aa4ab"/><rect x="919.7" y="541" width="2.8" height="33.6" fill="#9bcbd2"/><path d="M916.5,562.7 L924.3,562.7 L924.3,573.4 Q924.3,574.6 923.1,574.6 L917.7,574.6 Q916.5,574.6 916.5,573.4 Z" fill="#f3bf6e"/><path d="M919.7,562.7 L922.5,562.7 L922.5,574.6 L919.7,574.6 Z" fill="#f8d08c"/>
  <path d="M874,577 L878,574.2 L927.4,574.2 L930.8,577 Z" fill="#577379"/>
  <rect x="869.9" y="532.8" width="63.8" height="8.2" rx="4" fill="#577379"/>
  <rect x="882.1999999999999" y="531.7" width="5.2" height="10" rx="2.5" fill="#35424a"/><rect x="891.0" y="531.7" width="5.2" height="10" rx="2.5" fill="#35424a"/><rect x="900.0" y="531.7" width="5.2" height="10" rx="2.5" fill="#35424a"/><rect x="908.9" y="531.7" width="5.2" height="10" rx="2.5" fill="#35424a"/><rect x="917.6999999999999" y="531.7" width="5.2" height="10" rx="2.5" fill="#35424a"/>
  <g fill="none" stroke="#35424a" stroke-width="1.3"><path d="M884.8,533 C885.8,515.5 901.1,515.5 902.6,533"/><path d="M893.6,533 C894.6,515.5 910.0,515.5 911.5,533"/><path d="M902.6,533 C903.6,515.5 918.8,515.5 920.3,533"/><path d="M911.5,533 C912.5,515.5 927.5,515.5 927.5,533"/><path d="M920.3,533 C921.3,516 937,512 937.8,533 C938,545 934,551 931,555"/></g>
</g>


<g id="captions" font-size="14.4" fill="#4583aa">
  <text x="89.20" y="641.0" textLength="80.20" lengthAdjust="spacingAndGlyphs">cleaning with</text>
  <text x="70.20" y="656.5" textLength="117.20" lengthAdjust="spacingAndGlyphs">removal of injectors</text>
  <text x="260.20" y="637.1" textLength="106.40" lengthAdjust="spacingAndGlyphs">pour the flush into</text>
  <text x="277.60" y="652.7" textLength="73.00" lengthAdjust="spacingAndGlyphs">the gas tank</text>
  <text x="457.60" y="637.1" textLength="97.40" lengthAdjust="spacingAndGlyphs">cleaning nozzles</text>
  <text x="429.40" y="652.5" textLength="152.60" lengthAdjust="spacingAndGlyphs">with a special compound</text>
  <text x="656.60" y="636.4" textLength="102.80" lengthAdjust="spacingAndGlyphs">replacing sealing</text>
  <text x="658.20" y="652.1" textLength="98.80" lengthAdjust="spacingAndGlyphs">rings for injectors</text>
  <text x="858.40" y="636.4" textLength="88.00" lengthAdjust="spacingAndGlyphs">hydrodynamic</text>
  <text x="872.60" y="652.0" textLength="60.40" lengthAdjust="spacingAndGlyphs">cavitation</text>
</g>


<g id="wm-left">
<g transform="translate(16.5,654.8) skewX(-8)" fill="none" stroke-linecap="square" stroke-linejoin="miter"><path d="M3,3 H9.5 V17 H3 Z M3,10 H9.5 M13.5,2 H23.5 V8 H13.5 M13.5,2 V13 Q13.5,17 12,19.5 M16.5,10.5 V18.5 H24.5 V16.5 M17,14 L23.5,11.5" stroke="#a9a9a9" stroke-width="5"/><path d="M3,3 H9.5 V17 H3 Z M3,10 H9.5 M13.5,2 H23.5 V8 H13.5 M13.5,2 V13 Q13.5,17 12,19.5 M16.5,10.5 V18.5 H24.5 V16.5 M17,14 L23.5,11.5" stroke="#f7f7f7" stroke-width="3.1"/></g>
<g transform="translate(43.5,654.8) skewX(-8)" fill="none" stroke-linecap="square" stroke-linejoin="miter"><path d="M13,0 V2 M3,3.6 H24 M8,7 H19 V10.8 H8 Z M7,13.2 H20 L14,15.6 M13.6,15.6 V19.6 H11 M3,16.6 H24.5" stroke="#a9a9a9" stroke-width="5"/><path d="M13,0 V2 M3,3.6 H24 M8,7 H19 V10.8 H8 Z M7,13.2 H20 L14,15.6 M13.6,15.6 V19.6 H11 M3,16.6 H24.5" stroke="#f7f7f7" stroke-width="3.1"/></g>
<g transform="translate(70.5,654.8) skewX(-8)" fill="none" stroke-linecap="square" stroke-linejoin="miter"><path d="M4,19.8 V1.6 H23.5 V19.6 H21 M8,5.5 L12.5,15.5 M12.5,5.5 L8,15.5 M15,5.5 L19.5,15.5 M19.5,5.5 L15,15.5" stroke="#a9a9a9" stroke-width="5"/><path d="M4,19.8 V1.6 H23.5 V19.6 H21 M8,5.5 L12.5,15.5 M12.5,5.5 L8,15.5 M15,5.5 L19.5,15.5 M19.5,5.5 L15,15.5" stroke="#f7f7f7" stroke-width="3.1"/></g>
<text x="101" y="671.2" font-size="18.6" font-weight="bold" font-style="italic" fill="#a9a9a9" stroke="#a9a9a9" stroke-width="2.6" stroke-linejoin="round" textLength="110" lengthAdjust="spacingAndGlyphs">www.nipic.cn</text>
<text x="101" y="671.2" font-size="18.6" font-weight="bold" font-style="italic" fill="#f7f7f7" stroke="#f7f7f7" stroke-width="0.6" stroke-linejoin="round" textLength="110" lengthAdjust="spacingAndGlyphs">www.nipic.cn</text>
</g>
<g id="wm-right">
<rect x="793.1" y="653.1" width="220.9" height="19.5" fill="#b1b1b1"/>
<text x="803.1" y="666.9" font-size="12.1" fill="#ececec" textLength="200.2" lengthAdjust="spacingAndGlyphs">ID:9192964 NO:20200720181502661038</text>
</g>

</svg>
</body>
</html>
